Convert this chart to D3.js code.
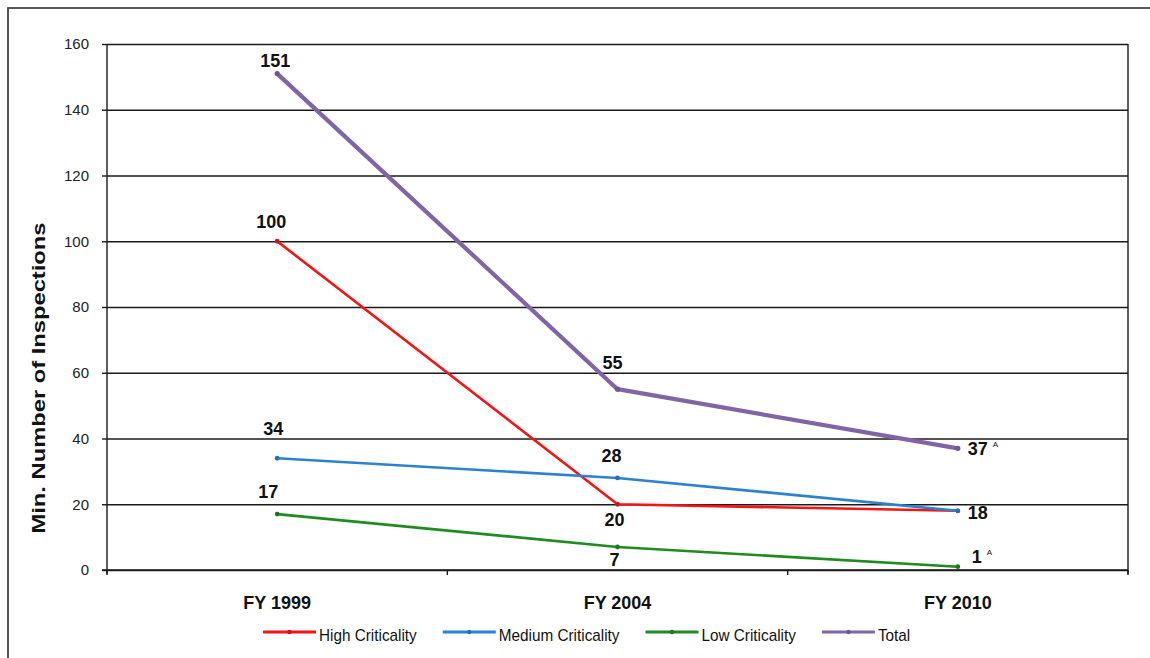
<!DOCTYPE html>
<html>
<head>
<meta charset="utf-8">
<script src="https://cdn.jsdelivr.net/npm/d3@7.9.0/dist/d3.min.js"></script>
<style>
  body { margin: 0; background: #fff; }
  svg { display: block; font-family: Arial, "Liberation Sans", sans-serif; }
</style>
</head>
<body>
<svg id="chart" width="1150" height="658"></svg>
<script>
// data
const categories = ['FY 1999', 'FY 2004', 'FY 2010'];
const yTicks = [0, 20, 40, 60, 80, 100, 120, 140, 160];
const seriesNames = ['High Criticality', 'Medium Criticality', 'Low Criticality', 'Total'];
const highValues = [100, 20, 18];
const mediumValues = [34, 28, 18];
const lowValues = [17, 7, 1];
const totalValues = [151, 55, 37];
const footnoteMarks = { 'Total': [null, null, 'A'], 'Low Criticality': [null, null, 'A'] };

// styling / label placement (pixels)
const colors = {
  'High Criticality': '#f41414',
  'Medium Criticality': '#2a82d2',
  'Low Criticality': '#1e8c1e',
  'Total': '#8064a6',
};
const widths = { 'High Criticality': 2.6, 'Medium Criticality': 2.6, 'Low Criticality': 2.6, 'Total': 4.2 };
const labelOffsets = {
  'High Criticality': [[-6, -13, 'middle'], [-3, 22, 'middle'], null],
  'Medium Criticality': [[-4, -23, 'middle'], [-6, -16, 'middle'], [10, 8, 'start']],
  'Low Criticality': [[-9, -16, 'middle'], [-3, 19, 'middle'], [14, -4, 'start']],
  'Total': [[-2, -7, 'middle'], [-5, -20, 'middle'], [10, 7, 'start']],
};

const series = [
  { name: seriesNames[0], values: highValues },
  { name: seriesNames[1], values: mediumValues },
  { name: seriesNames[2], values: lowValues },
  { name: seriesNames[3], values: totalValues },
];

const svg = d3.select('#chart');
const plot = { left: 107, right: 1128, top: 44, bottom: 570 };

// outer frame
svg.append('rect')
  .attr('x', 8).attr('y', 8).attr('width', 1300).attr('height', 800)
  .attr('fill', 'none').attr('stroke', '#444').attr('stroke-width', 1.8);

const x = d3.scaleBand().domain(categories).range([plot.left, plot.right]);
const cx = (c) => x(c) + x.bandwidth() / 2;
const y = d3.scaleLinear().domain([0, 160]).range([plot.bottom, plot.top]);

// gridlines
svg.append('g')
  .attr('transform', `translate(${plot.left},0)`)
  .call(d3.axisLeft(y).tickValues(yTicks).tickFormat('').tickSize(-(plot.right - plot.left)))
  .call((g) => g.select('.domain').remove())
  .call((g) => g.selectAll('line').attr('stroke', '#1a1a1a').attr('stroke-width', 1.4));

// y axis
const yAxis = svg.append('g')
  .attr('transform', `translate(${plot.left},0)`)
  .call(d3.axisLeft(y).tickValues(yTicks).tickSize(5).tickPadding(13).tickSizeOuter(0));
yAxis.select('.domain').attr('stroke', '#1a1a1a').attr('stroke-width', 1.4)
  .attr('d', `M0,${plot.top}V${plot.bottom + 4}`);
yAxis.selectAll('line').attr('stroke', '#1a1a1a').attr('stroke-width', 1.4);
yAxis.selectAll('text').attr('font-size', 15).attr('fill', '#222')
  .attr('font-family', 'Arial, "Liberation Sans", sans-serif');

// right border
svg.append('line')
  .attr('x1', plot.right).attr('x2', plot.right).attr('y1', plot.top).attr('y2', plot.bottom + 4)
  .attr('stroke', '#1a1a1a').attr('stroke-width', 1.4);

// x axis
const xAxis = svg.append('g')
  .attr('transform', `translate(0,${plot.bottom})`)
  .call(d3.axisBottom(x).tickSize(0).tickPadding(26));
xAxis.select('.domain').attr('stroke', '#1a1a1a').attr('stroke-width', 1.4)
  .attr('d', `M${plot.left - 5},0H${plot.right}`);
xAxis.selectAll('text').attr('font-size', 18).attr('font-weight', 'bold').attr('fill', '#111')
  .attr('font-family', 'Arial, "Liberation Sans", sans-serif');
const bounds = categories.map((c) => x(c)).concat([plot.right]);
xAxis.selectAll('.sep')
  .data(bounds)
  .join('line')
  .attr('class', 'sep')
  .attr('x1', (d) => d).attr('x2', (d) => d)
  .attr('y1', 0).attr('y2', 5)
  .attr('stroke', '#1a1a1a').attr('stroke-width', 1.4);

// y title
svg.append('text')
  .attr('transform', 'translate(45,378) rotate(-90)')
  .attr('text-anchor', 'middle')
  .attr('font-size', 19)
  .attr('font-weight', 'bold')
  .attr('fill', '#111')
  .attr('textLength', 311)
  .attr('lengthAdjust', 'spacingAndGlyphs')
  .text('Min. Number of Inspections');

// lines
const line = d3.line()
  .x((d, i) => cx(categories[i]))
  .y((d) => y(d));

const sg = svg.append('g').selectAll('g')
  .data(series)
  .join('g');

sg.append('path')
  .attr('d', (d) => line(d.values))
  .attr('fill', 'none')
  .attr('stroke', (d) => colors[d.name])
  .attr('stroke-width', (d) => widths[d.name])
  .attr('stroke-linejoin', 'round')
  .attr('stroke-linecap', 'round');

sg.selectAll('circle')
  .data((d) => d.values.map((v, i) => ({ name: d.name, v, i })))
  .join('circle')
  .attr('cx', (d) => cx(categories[d.i]))
  .attr('cy', (d) => y(d.v))
  .attr('r', (d) => (d.name === 'Total' ? 2.6 : 2.4))
  .attr('fill', (d) => d3.color(colors[d.name]).darker(0.4));

// data labels
series.forEach((s) => {
  s.values.forEach((v, i) => {
    const off = labelOffsets[s.name][i];
    if (!off) return;
    const t = svg.append('text')
      .attr('x', cx(categories[i]) + off[0])
      .attr('y', y(v) + off[1])
      .attr('text-anchor', off[2])
      .attr('font-size', 18)
      .attr('font-weight', 'bold')
      .attr('fill', '#111');
    t.append('tspan').text(v);
    const mark = footnoteMarks[s.name] && footnoteMarks[s.name][i];
    if (mark) {
      t.append('tspan')
        .attr('dx', 5).attr('dy', -8)
        .attr('font-size', 8)
        .attr('font-weight', 'normal')
        .text(mark);
    }
  });
});

// legend (narrow-looking text: taller glyphs squeezed to the reference width)
const legend = svg.append('g').attr('transform', 'translate(263,632)');
let lx = 0;
seriesNames.forEach((name) => {
  const g = legend.append('g').attr('transform', `translate(${lx},0)`);
  g.append('line')
    .attr('x1', 0).attr('x2', 53).attr('y1', 0).attr('y2', 0)
    .attr('stroke', colors[name]).attr('stroke-width', 3);
  g.append('circle').attr('cx', 26.5).attr('cy', 0).attr('r', 2.2)
    .attr('fill', d3.color(colors[name]).darker(0.4));
  const t = g.append('text')
    .attr('x', 56).attr('y', 9)
    .attr('font-size', 17)
    .attr('fill', '#111')
    .text(name);
  const w = t.node().getComputedTextLength() * 15.3 / 17;
  t.attr('textLength', w).attr('lengthAdjust', 'spacingAndGlyphs');
  lx += 56 + w + 26;
});
</script>
</body>
</html>
